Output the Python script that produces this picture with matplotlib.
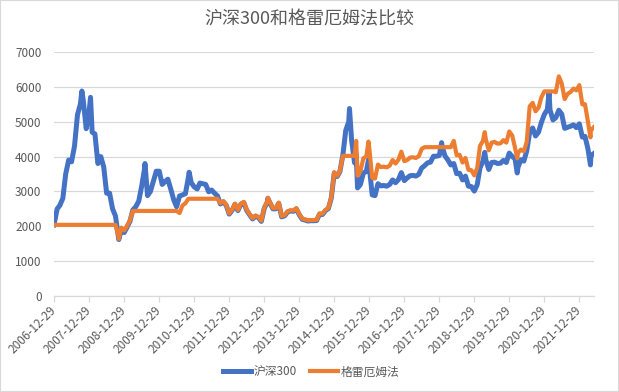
import numpy as np
import pandas as pd
import matplotlib

matplotlib.use("Agg")
import matplotlib.pyplot as plt
from matplotlib.patches import Rectangle

plt.rcParams["font.family"] = ["Noto Sans CJK SC", "DejaVu Sans"]

# month-end values, Dec 2006 .. May 2022
hs300 = [
    2041,
    2500, 2600, 2800, 3500, 3900, 3850, 4300, 5200, 5500, 5600, 4800, 5300,
    4700, 4650, 3800, 4000, 3700, 2950, 2950, 2500, 2300, 1700, 1900, 1820,
    1990, 2140, 2470, 2560, 2720, 3140, 3650, 2880, 3000, 3300, 3580, 3580,
    3200, 3280, 3350, 3070, 2760, 2560, 2870, 2900, 2935, 3400, 3250, 3130,
    3070, 3240, 3220, 3200, 2990, 3040, 2950, 2870, 2640, 2700, 2600, 2350,
    2460, 2630, 2450, 2630, 2680, 2460, 2330, 2210, 2290, 2250, 2140, 2520,
    2690, 2670, 2500, 2500, 2660, 2270, 2300, 2410, 2440, 2430, 2500, 2330,
    2200, 2180, 2150, 2160, 2160, 2165, 2350, 2340, 2450, 2510, 2810, 3530,
    3430, 3570, 4050, 4750, 5000, 4470, 3820, 3100, 3200, 3530, 3570, 3730,
    2900, 2880, 3220, 3160, 3170, 3150, 3200, 3330, 3250, 3340, 3540, 3310,
    3390, 3450, 3460, 3440, 3490, 3670, 3740, 3820, 3840, 4010, 4010, 4030,
    4280, 4020, 3900, 3760, 3800, 3510, 3520, 3330, 3440, 3150, 3140, 3010,
    3200, 3670, 3870, 3910, 3630, 3830, 3840, 3800, 3810, 3890, 3830, 4100,
    4000, 3940, 3690, 3910, 3870, 4160, 4700, 4820, 4590, 4700, 4980, 5210,
    5350, 5340, 5050, 5120, 5330, 5220, 4810, 4840, 4870, 4910, 4830, 4940,
    4560, 4580, 4220, 4020, 4090,
]

graham = [
    2041,
    2041, 2041, 2041, 2041, 2041, 2041, 2041, 2041, 2041, 2041, 2041, 2041,
    2041, 2041, 2041, 2041, 2041, 2041, 2041, 2041, 2041, 1720, 1960, 1880,
    2020, 2170, 2440, 2440, 2440, 2440, 2440, 2440, 2440, 2440, 2440, 2440,
    2440, 2440, 2440, 2440, 2440, 2440, 2380, 2600, 2660, 2790, 2790, 2790,
    2790, 2790, 2790, 2790, 2790, 2790, 2790, 2790, 2660, 2720, 2620, 2370,
    2480, 2650, 2470, 2650, 2700, 2480, 2350, 2230, 2310, 2270, 2160, 2540,
    2710, 2690, 2520, 2520, 2680, 2290, 2320, 2430, 2460, 2450, 2520, 2350,
    2220, 2200, 2170, 2180, 2180, 2185, 2370, 2360, 2470, 2530, 2830, 3550,
    3450, 3590, 4020, 4020, 4020, 4020, 4020, 3450, 3580, 3950, 4000, 4250,
    3390, 3370, 3770, 3700, 3710, 3690, 3740, 3900, 3800, 3910, 4140, 3870,
    3900, 3970, 3980, 3960, 4010, 4220, 4270, 4270, 4270, 4270, 4270, 4270,
    4270, 4270, 4270, 4270, 4450, 4040, 4050, 3830, 3960, 3620, 3610, 3460,
    3680, 4300, 4450, 4500, 4180, 4400, 4420, 4370, 4380, 4470, 4400, 4720,
    4600, 4250, 4100, 4200, 4150, 4420, 5440, 5540, 5300, 5400, 5700, 5870,
    5870, 5870, 5870, 5850, 6300, 6100, 5650, 5800, 5850, 5950, 5900, 6050,
    5500, 5500, 5000, 4750, 4850,
]

# intra-month highs / lows
extra_dates = [
    "2007-10-16", "2008-01-14", "2008-11-04", "2009-08-04", "2010-11-08",
    "2013-02-06", "2015-06-08", "2015-08-17", "2015-12-23", "2018-01-24",
    "2019-04-19", "2020-03-23", "2021-02-18", "2022-04-26",
]
extra_hs300 = [5880, 5700, 1620, 3800, 3550, 2800, 5380, 4050, 3900, 4400,
               4120, 3530, 5830, 3760]
extra_graham = [2041, 2041, 1640, 2440, 2790, 2820, 4020, 4450, 4430, 4270,
                4700, 3950, 5870, 4550]

dates = pd.date_range("2006-12-31", periods=len(hs300), freq="ME")
df = pd.DataFrame({"date": dates, "hs300": hs300, "graham": graham})
ex = pd.DataFrame({"date": pd.to_datetime(extra_dates),
                   "hs300": extra_hs300, "graham": extra_graham})
df = pd.concat([df, ex]).sort_values("date").reset_index(drop=True)
df.loc[0, "date"] = pd.Timestamp("2006-12-29")
df.loc[len(df) - 1, "date"] = pd.Timestamp("2022-06-02")

tick_dates = [pd.Timestamp(f"{y}-12-29") for y in range(2006, 2022)]

BLUE = "#4472C4"
ORANGE = "#ED7D31"
GRID = "#D9D9D9"
TXT = "#595959"

fig = plt.figure(figsize=(6.19, 3.92), dpi=100)
ax = fig.add_axes([54 / 619, 1 - 296 / 392, 540 / 619, 244 / 392])

ax.plot(df["date"], df["hs300"], color=BLUE, linewidth=3.6, label="沪深300",
        solid_joinstyle="round")
ax.plot(df["date"], df["graham"], color=ORANGE, linewidth=3.0, label="格雷厄姆法",
        solid_joinstyle="round")

ax.set_xlim(df["date"].iloc[0], df["date"].iloc[-1])
ax.set_ylim(0, 7000)
ax.set_yticks(range(0, 7001, 1000))
ax.yaxis.grid(True, color=GRID, linewidth=0.9)
ax.set_axisbelow(True)

ax.set_xticks(tick_dates)
ax.set_xticklabels([d.strftime("%Y-%m-%d") for d in tick_dates])
plt.setp(ax.get_xticklabels(), rotation=45, ha="right", va="center",
         rotation_mode="anchor")

for s in ["top", "right", "left"]:
    ax.spines[s].set_visible(False)
ax.spines["bottom"].set_color(GRID)
ax.spines["bottom"].set_linewidth(0.9)
ax.tick_params(axis="x", colors=TXT, labelsize=8.5, length=4, width=0.9,
               color=GRID, pad=5)
ax.tick_params(axis="y", colors=TXT, labelsize=8.5, length=0, pad=9)

fig.text(0.5, 1 - 19 / 392, "沪深300和格雷厄姆法比较", ha="center", va="center",
         fontsize=13, color=TXT)

fig.legend(loc="center", bbox_to_anchor=(311 / 619, 1 - 372 / 392), ncol=2,
           frameon=False, fontsize=8.5, handlelength=2.4, handletextpad=0.2,
           columnspacing=1.1, labelcolor=TXT)

fig.patches.append(Rectangle((0, 0), 1, 1, transform=fig.transFigure,
                             fill=False, edgecolor=GRID, linewidth=1.5))

plt.savefig("out.png", dpi=100)
